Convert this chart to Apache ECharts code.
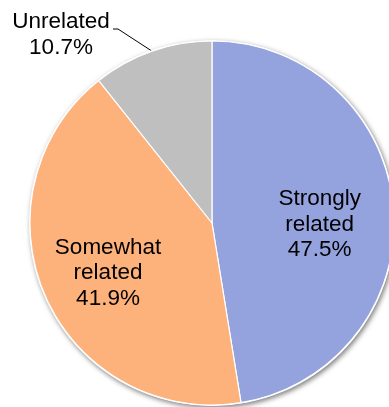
<!DOCTYPE html>
<html>
<head>
<meta charset="utf-8">
<style>
  html, body { margin: 0; padding: 0; background: #ffffff; }
  #chart { width: 389px; height: 407px; }
</style>
<script src="https://cdn.jsdelivr.net/npm/echarts@6/dist/echarts.min.js"></script>
</head>
<body>
<div id="chart"></div>
<script>
// Share of respondents by how related their work is
const categories = ['Strongly\nrelated', 'Somewhat\nrelated', 'Unrelated'];
const shares = [47.5, 41.9, 10.7];
const sliceColors = ['#94a3dd', '#fdb17b', '#bfbfbf'];

const pieCenter = [212, 223];
const pieRadius = 182;

const chart = echarts.init(document.getElementById('chart'), null, { renderer: 'canvas' });

const total = shares.reduce((a, b) => a + b, 0);

chart.setOption({
  animation: false,
  backgroundColor: '#ffffff',
  series: [
    {
      // soft drop shadow underneath the whole pie
      name: 'backdrop',
      type: 'pie',
      silent: true,
      center: pieCenter,
      radius: pieRadius + 1,
      startAngle: 90,
      label: { show: false },
      labelLine: { show: false },
      itemStyle: {
        color: '#ffffff',
        shadowBlur: 5,
        shadowColor: 'rgba(0,0,0,0.5)',
        shadowOffsetX: 1.5,
        shadowOffsetY: 2
      },
      data: [{ value: total }]
    },
    {
      name: 'share',
      type: 'pie',
      center: pieCenter,
      radius: pieRadius,
      startAngle: 90,
      clockwise: true,
      itemStyle: { borderColor: '#ffffff', borderWidth: 1.2 },
      label: {
        position: 'inside',
        formatter: p => p.name + '\n' + p.value.toFixed(1) + '%',
        fontFamily: 'Liberation Sans, Arial, sans-serif',
        fontSize: 22.5,
        lineHeight: 25.5,
        color: '#000000',
        align: 'center'
      },
      labelLine: { show: false },
      labelLayout: function (p) {
        if (p.dataIndex === 0) return { dx: 14, dy: 9 };
        if (p.dataIndex === 1) return { dx: -18, dy: 12 };
        // outside label for the small slice, with an elbowed leader
        const lx = 61, ly = 35;
        const anchor = p.labelLinePoints ? p.labelLinePoints[0] : null;
        const out = { x: lx, y: ly, align: 'center', verticalAlign: 'middle' };
        if (anchor) {
          out.labelLinePoints = [anchor, [lx + 57, ly - 6], [lx + 52, ly - 6]];
        }
        return out;
      },
      data: categories.map((name, i) => {
        const item = {
          name: name,
          value: shares[i],
          itemStyle: { color: sliceColors[i] }
        };
        if (i === 2) {
          item.label = { position: 'outside' };
          item.labelLine = {
            show: true,
            length: 20,
            length2: 8,
            lineStyle: { color: '#000000', width: 1 }
          };
        }
        return item;
      })
    }
  ]
});
</script>
</body>
</html>
